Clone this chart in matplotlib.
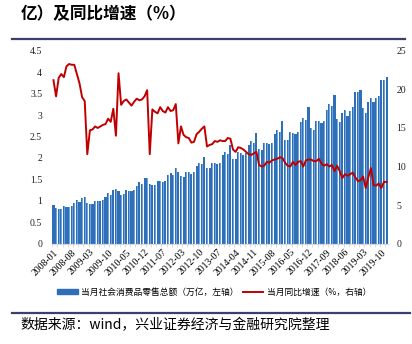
import numpy as np
import matplotlib
matplotlib.use('Agg')
import matplotlib.pyplot as plt
from matplotlib.lines import Line2D
from matplotlib.patches import Patch

plt.rcParams['font.family'] = ['Noto Sans CJK SC', 'DejaVu Sans']

# monthly sales (trillion yuan) and yoy growth (%), Jan/Feb merged from 2012 on
sales_2008 = [0.91, 0.84, 0.81, 0.81, 0.87, 0.86, 0.86, 0.88, 0.94, 1.01, 0.98, 1.07]
sales_2009 = [1.08, 0.95, 0.93, 0.93, 1.00, 0.99, 0.99, 1.01, 1.09, 1.17, 1.13, 1.26]
sales_2010 = [1.27, 1.23, 1.13, 1.15, 1.25, 1.23, 1.23, 1.26, 1.35, 1.43, 1.39, 1.53]
sales_2011 = [1.52, 1.38, 1.36, 1.36, 1.47, 1.46, 1.44, 1.47, 1.59, 1.65, 1.61, 1.77]
sales_2012 = [1.68, 1.57, 1.56, 1.67, 1.66, 1.63, 1.67, 1.82, 1.89, 1.85, 2.03]
sales_2013 = [1.76, 1.76, 1.89, 1.88, 1.85, 1.89, 2.07, 2.15, 2.10, 2.31]
sales_2014 = [1.98, 1.97, 2.13, 2.12, 2.08, 2.11, 2.30, 2.40, 2.35, 2.58]
sales_2015 = [2.20, 2.18, 2.36, 2.35, 2.32, 2.36, 2.55, 2.66, 2.61, 2.86]
sales_2016 = [2.43, 2.41, 2.60, 2.59, 2.55, 2.61, 2.83, 2.93, 2.89, 3.18]
sales_2017 = [2.70, 2.66, 2.87, 2.86, 2.81, 2.87, 3.11, 3.25, 3.22, 3.47]
sales_2018 = [2.92, 2.85, 3.04, 3.11, 2.97, 3.10, 3.20, 3.55, 3.53, 3.59]
sales_2019 = [3.17, 3.06, 3.30, 3.39, 3.31, 3.39, 3.45, 3.81, 3.81, 3.88]

yoy_2008 = [21.2, 19.1, 21.5, 22.0, 21.6, 23.0, 23.3, 23.2, 23.2, 22.0, 20.8, 19.0]
yoy_2009 = [18.5, 11.6, 14.7, 14.8, 15.2, 15.0, 15.2, 15.4, 15.5, 16.2, 15.8, 17.5]
yoy_2010 = [14.0, 22.1, 18.0, 18.5, 18.7, 18.3, 17.9, 18.4, 18.8, 18.6, 18.7, 19.1]
yoy_2011 = [19.9, 11.6, 17.4, 17.1, 16.9, 17.7, 17.2, 17.0, 17.7, 17.2, 17.3, 18.1]
yoy_2012 = [13.0, 15.2, 14.1, 13.8, 13.7, 13.1, 13.2, 14.2, 14.5, 14.9, 15.2]
yoy_2013 = [12.6, 12.8, 12.9, 13.3, 13.2, 13.4, 13.3, 13.3, 13.7, 13.6]
yoy_2014 = [12.2, 11.9, 12.5, 12.4, 12.2, 11.9, 11.6, 11.5, 11.7, 11.9]
yoy_2015 = [10.2, 10.0, 10.1, 10.6, 10.5, 10.8, 10.9, 11.0, 11.2, 11.1]
yoy_2016 = [10.5, 10.1, 10.0, 10.6, 10.2, 10.6, 10.7, 10.0, 10.8, 10.9]
yoy_2017 = [10.9, 10.7, 10.7, 11.0, 10.4, 10.1, 10.3, 10.0, 10.2, 9.4]
yoy_2018 = [10.1, 9.4, 8.5, 9.0, 8.8, 9.0, 9.2, 8.6, 8.1, 8.2]
yoy_2019 = [8.7, 7.2, 8.6, 9.8, 7.6, 7.5, 7.8, 7.2, 8.0, 8.0]

years = list(range(2008, 2020))
first_month = {2012: 2}  # 2012 starts in Feb, 2013+ start in Mar
months = []
for y in years:
    start = 1 if y < 2012 else first_month.get(y, 3)
    months += ['%d-%02d' % (y, m) for m in range(start, 13)]

sales = np.array(sales_2008 + sales_2009 + sales_2010 + sales_2011 + sales_2012 + sales_2013
                 + sales_2014 + sales_2015 + sales_2016 + sales_2017 + sales_2018 + sales_2019)
yoy = np.array(yoy_2008 + yoy_2009 + yoy_2010 + yoy_2011 + yoy_2012 + yoy_2013
               + yoy_2014 + yoy_2015 + yoy_2016 + yoy_2017 + yoy_2018 + yoy_2019)

title_text = '亿）及同比增速（%）'
legend_bar = '当月社会消费品零售总额（万亿，左轴）'
legend_line = '当月同比增速（%，右轴）'
source_text = '数据来源：wind，兴业证券经济与金融研究院整理'

fig = plt.figure(figsize=(4.12, 3.44), dpi=100)
ax = fig.add_axes([0.126, 0.292, 0.816, 0.56])
x = np.arange(len(months))

# bars with a lighter strip on the right side
ax.bar(x, sales, width=0.8, color='#2e6fb7', zorder=2)
ax.bar(x + 0.2, sales, width=0.25, color='#6ea4d9', zorder=3)
ax.set_ylim(0, 4.5)
ax.set_xlim(-0.6, len(months) - 0.4)
ax.set_yticks(np.arange(0, 4.51, 0.5))
ax.set_yticklabels(['0', '0.5', '1', '1.5', '2', '2.5', '3', '3.5', '4', '4.5'])

ax2 = ax.twinx()
ax2.plot(x, yoy, color='#c00000', lw=1.4, zorder=5)
ax2.set_ylim(0, 25)
ax2.set_yticks(range(0, 26, 5))

tick_idx = list(range(0, len(months), 7))
ax.set_xticks(tick_idx)
ax.set_xticklabels([months[i] for i in tick_idx], rotation=45, ha='right',
                   rotation_mode='anchor', family='Liberation Serif', fontsize=7)
ax.set_xticks(np.arange(-0.5, len(months), 2), minor=True)
ax.tick_params(axis='x', which='major', length=0, pad=3)
ax.tick_params(axis='x', which='minor', length=2.5, color='#d9d9d9')

for a in (ax, ax2):
    for s in ['top', 'left', 'right']:
        a.spines[s].set_visible(False)
    a.spines['bottom'].set_color('#d9d9d9')
    a.tick_params(axis='y', length=0, labelsize=7, colors='#222222')
    for lab in a.get_yticklabels():
        lab.set_family('Liberation Serif')
ax.tick_params(axis='y', pad=7)
ax2.tick_params(axis='y', pad=6)

# header / footer
fig.text(0.05, 0.985, title_text, fontsize=12, fontweight='bold', va='top', ha='left')
fig.add_artist(Line2D([0.03, 0.983], [0.886, 0.886], color='#3b3f6b', lw=1.6))
fig.add_artist(Line2D([0.03, 0.995], [0.09, 0.09], color='#3b3f6b', lw=1.6))
fig.text(0.05, 0.055, source_text, fontsize=10, va='center', ha='left')

handles = [Patch(color='#2e6fb7'), Line2D([], [], color='#c00000', lw=1.4)]
fig.legend(handles, [legend_bar, legend_line], loc='center', bbox_to_anchor=(0.52, 0.151),
           ncol=2, frameon=False, fontsize=6.3, handlelength=2.3, handleheight=0.5,
           handletextpad=0.4, columnspacing=0.5)

fig.savefig('out.png', dpi=100)
